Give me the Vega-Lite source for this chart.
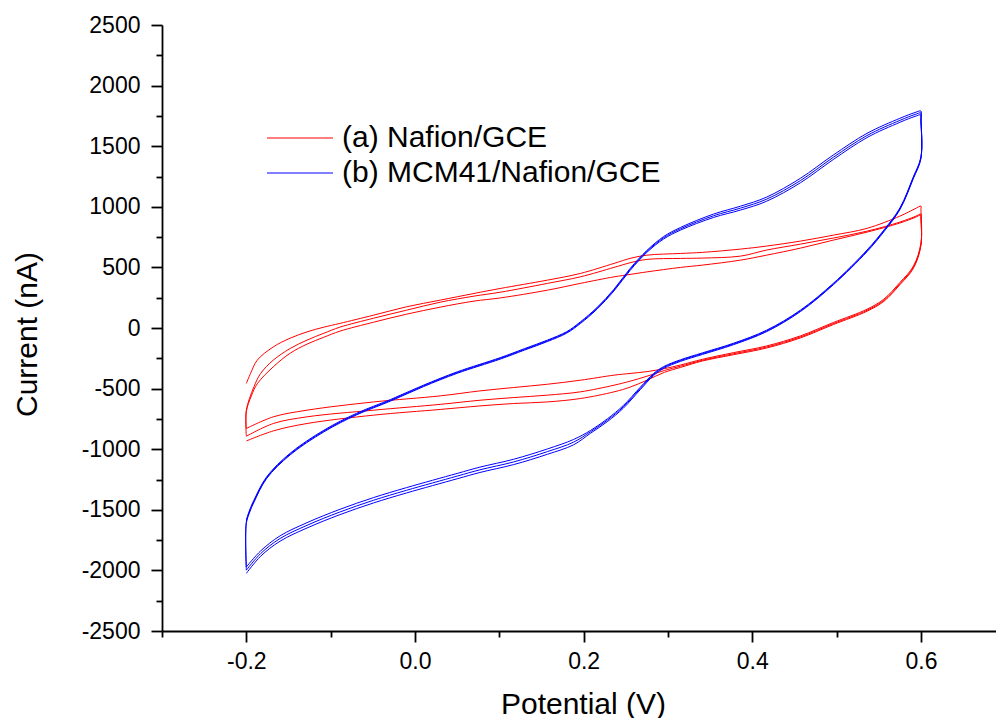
{
  "$schema": "https://vega.github.io/schema/vega-lite/v6.json",
  "autosize": "none",
  "width": 834,
  "height": 606,
  "padding": {"left": 162, "top": 25, "right": 0, "bottom": 87},
  "background": "white",
  "config": {
    "view": {"stroke": null},
    "font": "Liberation Sans",
    "axis": {
      "domainColor": "#000000", "domainWidth": 1.8,
      "tickColor": "#000000", "tickWidth": 1.8,
      "labelColor": "#000000", "titleColor": "#000000",
      "labelFont": "Liberation Sans", "titleFont": "Liberation Sans",
      "labelFontSize": 23, "titleFontSize": 30, "titleFontWeight": "normal",
      "grid": false, "labelOverlap": false, "labelFlush": false, "labelBound": false
    },
    "legend": {
      "symbolType": "stroke", "symbolSize": 4356, "symbolStrokeWidth": 1.2,
      "labelFont": "Liberation Sans", "labelFontSize": 30, "labelColor": "#000000",
      "labelOffset": 8, "padding": 0, "labelLimit": 0
    }
  },
  "data": {
    "values": [
      {"s":"a","c":"a1","v":-0.2,"i":-458},{"s":"a","c":"a1","v":-0.195,"i":-375},{"s":"a","c":"a1","v":-0.187,"i":-265},{"s":"a","c":"a1","v":-0.168,"i":-156},{"s":"a","c":"a1","v":-0.148,"i":-84},{"s":"a","c":"a1","v":-0.128,"i":-32},{"s":"a","c":"a1","v":-0.108,"i":7},{"s":"a","c":"a1","v":-0.089,"i":38},{"s":"a","c":"a1","v":-0.049,"i":106},{"s":"a","c":"a1","v":-0.01,"i":175},{"s":"a","c":"a1","v":0.03,"i":230},{"s":"a","c":"a1","v":0.07,"i":285},{"s":"a","c":"a1","v":0.101,"i":326},{"s":"a","c":"a1","v":0.157,"i":395},{"s":"a","c":"a1","v":0.196,"i":450},{"s":"a","c":"a1","v":0.236,"i":533},{"s":"a","c":"a1","v":0.255,"i":574},{"s":"a","c":"a1","v":0.275,"i":601},{"s":"a","c":"a1","v":0.315,"i":615},{"s":"a","c":"a1","v":0.341,"i":624},{"s":"a","c":"a1","v":0.386,"i":651},{"s":"a","c":"a1","v":0.417,"i":676},{"s":"a","c":"a1","v":0.457,"i":717},{"s":"a","c":"a1","v":0.496,"i":766},{"s":"a","c":"a1","v":0.536,"i":822},{"s":"a","c":"a1","v":0.575,"i":923},{"s":"a","c":"a1","v":0.593,"i":984},{"s":"a","c":"a1","v":0.6,"i":1006},
      {"s":"a","c":"a1","v":0.6,"i":980},{"s":"a","c":"a1","v":0.6,"i":700},{"s":"a","c":"a1","v":0.591,"i":510},{"s":"a","c":"a1","v":0.575,"i":375},{"s":"a","c":"a1","v":0.556,"i":238},{"s":"a","c":"a1","v":0.536,"i":155},{"s":"a","c":"a1","v":0.496,"i":45},{"s":"a","c":"a1","v":0.457,"i":-65},{"s":"a","c":"a1","v":0.417,"i":-148},{"s":"a","c":"a1","v":0.378,"i":-203},{"s":"a","c":"a1","v":0.341,"i":-258},{"s":"a","c":"a1","v":0.315,"i":-305},{"s":"a","c":"a1","v":0.296,"i":-335},{"s":"a","c":"a1","v":0.275,"i":-360},{"s":"a","c":"a1","v":0.255,"i":-375},{"s":"a","c":"a1","v":0.236,"i":-389},{"s":"a","c":"a1","v":0.196,"i":-431},{"s":"a","c":"a1","v":0.157,"i":-464},{"s":"a","c":"a1","v":0.117,"i":-491},{"s":"a","c":"a1","v":0.077,"i":-519},{"s":"a","c":"a1","v":0.03,"i":-560},{"s":"a","c":"a1","v":-0.049,"i":-610},{"s":"a","c":"a1","v":-0.128,"i":-678},{"s":"a","c":"a1","v":-0.168,"i":-733},{"s":"a","c":"a1","v":-0.2,"i":-829},

      {"s":"a","c":"a2","v":-0.2,"i":-829},{"s":"a","c":"a2","v":-0.2,"i":-678},{"s":"a","c":"a2","v":-0.191,"i":-486},{"s":"a","c":"a2","v":-0.183,"i":-375},{"s":"a","c":"a2","v":-0.168,"i":-265},{"s":"a","c":"a2","v":-0.148,"i":-169},{"s":"a","c":"a2","v":-0.128,"i":-100},{"s":"a","c":"a2","v":-0.108,"i":-43},{"s":"a","c":"a2","v":-0.089,"i":7},{"s":"a","c":"a2","v":-0.049,"i":81},{"s":"a","c":"a2","v":-0.01,"i":147},{"s":"a","c":"a2","v":0.03,"i":213},{"s":"a","c":"a2","v":0.07,"i":263},{"s":"a","c":"a2","v":0.101,"i":295},{"s":"a","c":"a2","v":0.157,"i":368},{"s":"a","c":"a2","v":0.196,"i":422},{"s":"a","c":"a2","v":0.236,"i":500},{"s":"a","c":"a2","v":0.255,"i":538},{"s":"a","c":"a2","v":0.275,"i":566},{"s":"a","c":"a2","v":0.315,"i":574},{"s":"a","c":"a2","v":0.341,"i":577},{"s":"a","c":"a2","v":0.386,"i":593},{"s":"a","c":"a2","v":0.417,"i":643},{"s":"a","c":"a2","v":0.457,"i":692},{"s":"a","c":"a2","v":0.496,"i":742},{"s":"a","c":"a2","v":0.536,"i":799},{"s":"a","c":"a2","v":0.575,"i":874},{"s":"a","c":"a2","v":0.593,"i":920},{"s":"a","c":"a2","v":0.6,"i":940},
      {"s":"a","c":"a2","v":0.6,"i":915},{"s":"a","c":"a2","v":0.6,"i":690},{"s":"a","c":"a2","v":0.591,"i":500},{"s":"a","c":"a2","v":0.575,"i":365},{"s":"a","c":"a2","v":0.556,"i":228},{"s":"a","c":"a2","v":0.536,"i":146},{"s":"a","c":"a2","v":0.496,"i":36},{"s":"a","c":"a2","v":0.457,"i":-74},{"s":"a","c":"a2","v":0.417,"i":-157},{"s":"a","c":"a2","v":0.378,"i":-212},{"s":"a","c":"a2","v":0.341,"i":-266},{"s":"a","c":"a2","v":0.315,"i":-315},{"s":"a","c":"a2","v":0.296,"i":-350},{"s":"a","c":"a2","v":0.275,"i":-398},{"s":"a","c":"a2","v":0.255,"i":-439},{"s":"a","c":"a2","v":0.236,"i":-472},{"s":"a","c":"a2","v":0.196,"i":-527},{"s":"a","c":"a2","v":0.157,"i":-554},{"s":"a","c":"a2","v":0.117,"i":-574},{"s":"a","c":"a2","v":0.077,"i":-596},{"s":"a","c":"a2","v":0.03,"i":-630},{"s":"a","c":"a2","v":-0.049,"i":-678},{"s":"a","c":"a2","v":-0.128,"i":-733},{"s":"a","c":"a2","v":-0.168,"i":-788},{"s":"a","c":"a2","v":-0.2,"i":-893},

      {"s":"a","c":"a3","v":-0.2,"i":-893},{"s":"a","c":"a3","v":-0.2,"i":-690},{"s":"a","c":"a3","v":-0.194,"i":-560},{"s":"a","c":"a3","v":-0.187,"i":-460},{"s":"a","c":"a3","v":-0.168,"i":-320},{"s":"a","c":"a3","v":-0.148,"i":-208},{"s":"a","c":"a3","v":-0.128,"i":-133},{"s":"a","c":"a3","v":-0.108,"i":-76},{"s":"a","c":"a3","v":-0.089,"i":-26},{"s":"a","c":"a3","v":-0.049,"i":48},{"s":"a","c":"a3","v":-0.01,"i":114},{"s":"a","c":"a3","v":0.03,"i":172},{"s":"a","c":"a3","v":0.07,"i":222},{"s":"a","c":"a3","v":0.101,"i":248},{"s":"a","c":"a3","v":0.157,"i":312},{"s":"a","c":"a3","v":0.196,"i":368},{"s":"a","c":"a3","v":0.236,"i":422},{"s":"a","c":"a3","v":0.255,"i":442},{"s":"a","c":"a3","v":0.275,"i":463},{"s":"a","c":"a3","v":0.315,"i":500},{"s":"a","c":"a3","v":0.341,"i":519},{"s":"a","c":"a3","v":0.386,"i":560},{"s":"a","c":"a3","v":0.417,"i":601},{"s":"a","c":"a3","v":0.457,"i":659},{"s":"a","c":"a3","v":0.496,"i":725},{"s":"a","c":"a3","v":0.536,"i":791},{"s":"a","c":"a3","v":0.575,"i":866},{"s":"a","c":"a3","v":0.593,"i":912},{"s":"a","c":"a3","v":0.6,"i":932},
      {"s":"a","c":"a3","v":0.6,"i":907},{"s":"a","c":"a3","v":0.6,"i":680},{"s":"a","c":"a3","v":0.591,"i":492},{"s":"a","c":"a3","v":0.575,"i":357},{"s":"a","c":"a3","v":0.556,"i":220},{"s":"a","c":"a3","v":0.536,"i":138},{"s":"a","c":"a3","v":0.496,"i":28},{"s":"a","c":"a3","v":0.457,"i":-82},{"s":"a","c":"a3","v":0.417,"i":-165},{"s":"a","c":"a3","v":0.378,"i":-220},{"s":"a","c":"a3","v":0.341,"i":-272},{"s":"a","c":"a3","v":0.315,"i":-325},{"s":"a","c":"a3","v":0.296,"i":-365},{"s":"a","c":"a3","v":0.275,"i":-431},{"s":"a","c":"a3","v":0.255,"i":-488},{"s":"a","c":"a3","v":0.236,"i":-527},{"s":"a","c":"a3","v":0.196,"i":-582},{"s":"a","c":"a3","v":0.157,"i":-610},{"s":"a","c":"a3","v":0.117,"i":-623},{"s":"a","c":"a3","v":0.077,"i":-643},{"s":"a","c":"a3","v":0.03,"i":-672},{"s":"a","c":"a3","v":-0.049,"i":-719},{"s":"a","c":"a3","v":-0.128,"i":-788},{"s":"a","c":"a3","v":-0.168,"i":-849},{"s":"a","c":"a3","v":-0.2,"i":-932},

      {"s":"b","c":"b1","v":-0.2,"i":-1586},{"s":"b","c":"b1","v":-0.196,"i":-1500},{"s":"b","c":"b1","v":-0.191,"i":-1421},{"s":"b","c":"b1","v":-0.176,"i":-1229},{"s":"b","c":"b1","v":-0.148,"i":-1033},{"s":"b","c":"b1","v":-0.108,"i":-843},{"s":"b","c":"b1","v":-0.069,"i":-703},{"s":"b","c":"b1","v":-0.029,"i":-590},{"s":"b","c":"b1","v":0.01,"i":-472},{"s":"b","c":"b1","v":0.05,"i":-362},{"s":"b","c":"b1","v":0.101,"i":-245},{"s":"b","c":"b1","v":0.13,"i":-170},{"s":"b","c":"b1","v":0.157,"i":-100},{"s":"b","c":"b1","v":0.18,"i":-30},{"s":"b","c":"b1","v":0.196,"i":50},{"s":"b","c":"b1","v":0.216,"i":170},{"s":"b","c":"b1","v":0.236,"i":320},{"s":"b","c":"b1","v":0.255,"i":490},{"s":"b","c":"b1","v":0.275,"i":640},{"s":"b","c":"b1","v":0.295,"i":755},{"s":"b","c":"b1","v":0.315,"i":830},{"s":"b","c":"b1","v":0.354,"i":940},{"s":"b","c":"b1","v":0.386,"i":1005},{"s":"b","c":"b1","v":0.417,"i":1080},{"s":"b","c":"b1","v":0.457,"i":1235},{"s":"b","c":"b1","v":0.496,"i":1427},{"s":"b","c":"b1","v":0.536,"i":1606},{"s":"b","c":"b1","v":0.575,"i":1730},{"s":"b","c":"b1","v":0.593,"i":1778},{"s":"b","c":"b1","v":0.6,"i":1790},
      {"s":"b","c":"b1","v":0.6,"i":1745},{"s":"b","c":"b1","v":0.6,"i":1413},{"s":"b","c":"b1","v":0.591,"i":1248},{"s":"b","c":"b1","v":0.575,"i":990},{"s":"b","c":"b1","v":0.556,"i":808},{"s":"b","c":"b1","v":0.536,"i":643},{"s":"b","c":"b1","v":0.496,"i":368},{"s":"b","c":"b1","v":0.457,"i":147},{"s":"b","c":"b1","v":0.417,"i":-18},{"s":"b","c":"b1","v":0.378,"i":-125},{"s":"b","c":"b1","v":0.341,"i":-205},{"s":"b","c":"b1","v":0.315,"i":-262},{"s":"b","c":"b1","v":0.295,"i":-318},{"s":"b","c":"b1","v":0.283,"i":-375},{"s":"b","c":"b1","v":0.267,"i":-490},{"s":"b","c":"b1","v":0.247,"i":-640},{"s":"b","c":"b1","v":0.228,"i":-750},{"s":"b","c":"b1","v":0.208,"i":-846},{"s":"b","c":"b1","v":0.188,"i":-920},{"s":"b","c":"b1","v":0.157,"i":-998},{"s":"b","c":"b1","v":0.117,"i":-1083},{"s":"b","c":"b1","v":0.077,"i":-1148},{"s":"b","c":"b1","v":0.05,"i":-1200},{"s":"b","c":"b1","v":-0.01,"i":-1317},{"s":"b","c":"b1","v":-0.049,"i":-1399},{"s":"b","c":"b1","v":-0.089,"i":-1496},{"s":"b","c":"b1","v":-0.128,"i":-1606},{"s":"b","c":"b1","v":-0.16,"i":-1715},{"s":"b","c":"b1","v":-0.183,"i":-1839},{"s":"b","c":"b1","v":-0.2,"i":-1972},

      {"s":"b","c":"b2","v":-0.2,"i":-1972},{"s":"b","c":"b2","v":-0.2,"i":-1600},{"s":"b","c":"b2","v":-0.196,"i":-1510},{"s":"b","c":"b2","v":-0.191,"i":-1430},{"s":"b","c":"b2","v":-0.176,"i":-1236},{"s":"b","c":"b2","v":-0.148,"i":-1040},{"s":"b","c":"b2","v":-0.108,"i":-850},{"s":"b","c":"b2","v":-0.069,"i":-710},{"s":"b","c":"b2","v":-0.029,"i":-597},{"s":"b","c":"b2","v":0.01,"i":-478},{"s":"b","c":"b2","v":0.05,"i":-368},{"s":"b","c":"b2","v":0.101,"i":-251},{"s":"b","c":"b2","v":0.13,"i":-176},{"s":"b","c":"b2","v":0.157,"i":-106},{"s":"b","c":"b2","v":0.18,"i":-36},{"s":"b","c":"b2","v":0.196,"i":43},{"s":"b","c":"b2","v":0.216,"i":163},{"s":"b","c":"b2","v":0.236,"i":313},{"s":"b","c":"b2","v":0.255,"i":482},{"s":"b","c":"b2","v":0.275,"i":632},{"s":"b","c":"b2","v":0.295,"i":745},{"s":"b","c":"b2","v":0.315,"i":819},{"s":"b","c":"b2","v":0.354,"i":926},{"s":"b","c":"b2","v":0.386,"i":989},{"s":"b","c":"b2","v":0.417,"i":1063},{"s":"b","c":"b2","v":0.457,"i":1216},{"s":"b","c":"b2","v":0.496,"i":1408},{"s":"b","c":"b2","v":0.536,"i":1588},{"s":"b","c":"b2","v":0.575,"i":1713},{"s":"b","c":"b2","v":0.593,"i":1762},{"s":"b","c":"b2","v":0.6,"i":1774},
      {"s":"b","c":"b2","v":0.6,"i":1728},{"s":"b","c":"b2","v":0.6,"i":1405},{"s":"b","c":"b2","v":0.591,"i":1240},{"s":"b","c":"b2","v":0.575,"i":983},{"s":"b","c":"b2","v":0.556,"i":801},{"s":"b","c":"b2","v":0.536,"i":636},{"s":"b","c":"b2","v":0.496,"i":362},{"s":"b","c":"b2","v":0.457,"i":141},{"s":"b","c":"b2","v":0.417,"i":-24},{"s":"b","c":"b2","v":0.378,"i":-131},{"s":"b","c":"b2","v":0.341,"i":-211},{"s":"b","c":"b2","v":0.315,"i":-268},{"s":"b","c":"b2","v":0.295,"i":-325},{"s":"b","c":"b2","v":0.283,"i":-383},{"s":"b","c":"b2","v":0.267,"i":-500},{"s":"b","c":"b2","v":0.247,"i":-651},{"s":"b","c":"b2","v":0.228,"i":-761},{"s":"b","c":"b2","v":0.208,"i":-857},{"s":"b","c":"b2","v":0.188,"i":-942},{"s":"b","c":"b2","v":0.157,"i":-1020},{"s":"b","c":"b2","v":0.117,"i":-1105},{"s":"b","c":"b2","v":0.077,"i":-1170},{"s":"b","c":"b2","v":0.05,"i":-1222},{"s":"b","c":"b2","v":-0.01,"i":-1339},{"s":"b","c":"b2","v":-0.049,"i":-1421},{"s":"b","c":"b2","v":-0.089,"i":-1518},{"s":"b","c":"b2","v":-0.128,"i":-1628},{"s":"b","c":"b2","v":-0.16,"i":-1737},{"s":"b","c":"b2","v":-0.183,"i":-1861},{"s":"b","c":"b2","v":-0.2,"i":-1998},

      {"s":"b","c":"b3","v":-0.2,"i":-1998},{"s":"b","c":"b3","v":-0.2,"i":-1612},{"s":"b","c":"b3","v":-0.196,"i":-1520},{"s":"b","c":"b3","v":-0.191,"i":-1438},{"s":"b","c":"b3","v":-0.176,"i":-1243},{"s":"b","c":"b3","v":-0.148,"i":-1047},{"s":"b","c":"b3","v":-0.108,"i":-857},{"s":"b","c":"b3","v":-0.069,"i":-716},{"s":"b","c":"b3","v":-0.029,"i":-603},{"s":"b","c":"b3","v":0.01,"i":-484},{"s":"b","c":"b3","v":0.05,"i":-374},{"s":"b","c":"b3","v":0.101,"i":-257},{"s":"b","c":"b3","v":0.13,"i":-182},{"s":"b","c":"b3","v":0.157,"i":-112},{"s":"b","c":"b3","v":0.18,"i":-42},{"s":"b","c":"b3","v":0.196,"i":36},{"s":"b","c":"b3","v":0.216,"i":156},{"s":"b","c":"b3","v":0.236,"i":306},{"s":"b","c":"b3","v":0.255,"i":474},{"s":"b","c":"b3","v":0.275,"i":624},{"s":"b","c":"b3","v":0.295,"i":735},{"s":"b","c":"b3","v":0.315,"i":808},{"s":"b","c":"b3","v":0.354,"i":912},{"s":"b","c":"b3","v":0.386,"i":973},{"s":"b","c":"b3","v":0.417,"i":1046},{"s":"b","c":"b3","v":0.457,"i":1198},{"s":"b","c":"b3","v":0.496,"i":1390},{"s":"b","c":"b3","v":0.536,"i":1571},{"s":"b","c":"b3","v":0.575,"i":1697},{"s":"b","c":"b3","v":0.593,"i":1746},{"s":"b","c":"b3","v":0.6,"i":1758},
      {"s":"b","c":"b3","v":0.6,"i":1712},{"s":"b","c":"b3","v":0.6,"i":1398},{"s":"b","c":"b3","v":0.591,"i":1233},{"s":"b","c":"b3","v":0.575,"i":976},{"s":"b","c":"b3","v":0.556,"i":794},{"s":"b","c":"b3","v":0.536,"i":629},{"s":"b","c":"b3","v":0.496,"i":356},{"s":"b","c":"b3","v":0.457,"i":135},{"s":"b","c":"b3","v":0.417,"i":-30},{"s":"b","c":"b3","v":0.378,"i":-137},{"s":"b","c":"b3","v":0.341,"i":-218},{"s":"b","c":"b3","v":0.315,"i":-275},{"s":"b","c":"b3","v":0.295,"i":-333},{"s":"b","c":"b3","v":0.283,"i":-392},{"s":"b","c":"b3","v":0.267,"i":-510},{"s":"b","c":"b3","v":0.247,"i":-662},{"s":"b","c":"b3","v":0.228,"i":-773},{"s":"b","c":"b3","v":0.208,"i":-869},{"s":"b","c":"b3","v":0.188,"i":-964},{"s":"b","c":"b3","v":0.157,"i":-1042},{"s":"b","c":"b3","v":0.117,"i":-1127},{"s":"b","c":"b3","v":0.077,"i":-1192},{"s":"b","c":"b3","v":0.05,"i":-1244},{"s":"b","c":"b3","v":-0.01,"i":-1361},{"s":"b","c":"b3","v":-0.049,"i":-1443},{"s":"b","c":"b3","v":-0.089,"i":-1540},{"s":"b","c":"b3","v":-0.128,"i":-1650},{"s":"b","c":"b3","v":-0.16,"i":-1759},{"s":"b","c":"b3","v":-0.183,"i":-1883},{"s":"b","c":"b3","v":-0.2,"i":-2024}
    ]
  },
  "encoding": {
    "x": {
      "field": "v", "type": "quantitative",
      "scale": {"domain": [-0.3, 0.689], "nice": false, "zero": false},
      "axis": {
        "title": "Potential (V)",
        "values": [-0.3, -0.2, -0.1, 0, 0.1, 0.2, 0.3, 0.4, 0.5, 0.6],
        "labelExpr": "round(datum.value*10) % 2 != 0 ? '' : (datum.value < 0 ? '-' : '') + format(abs(datum.value), '.1f')",
        "tickSize": {"condition": {"test": "round(datum.value*10) % 2 != 0", "value": 6}, "value": 11},
        "labelPadding": 8,
        "titleX": 421, "titleY": 82, "titleBaseline": "alphabetic", "titleAlign": "center"
      }
    },
    "y": {
      "field": "i", "type": "quantitative",
      "scale": {"domain": [-2500, 2500], "nice": false, "zero": false},
      "axis": {
        "title": "Current (nA)",
        "values": [-2500, -2250, -2000, -1750, -1500, -1250, -1000, -750, -500, -250, 0, 250, 500, 750, 1000, 1250, 1500, 1750, 2000, 2250, 2500],
        "labelExpr": "datum.value % 500 != 0 ? '' : '' + datum.value",
        "tickSize": {"condition": {"test": "datum.value % 500 != 0", "value": 6}, "value": 11},
        "labelPadding": 11,
        "titleX": -126, "titleY": 309, "titleAngle": -90, "titleBaseline": "alphabetic", "titleAlign": "center"
      }
    },
    "detail": {"field": "c", "type": "nominal"},
    "order": {"value": null}
  },
  "layer": [
    {
      "transform": [{"filter": "datum.s == 'a'"}],
      "mark": {"type": "line", "strokeWidth": 1, "interpolate": "catmull-rom"},
      "encoding": {
        "color": {
          "field": "s", "type": "nominal",
          "scale": {"domain": ["a"], "range": ["#ff0000"]},
          "legend": {"title": null, "orient": "none", "legendX": 104, "legendY": 79, "labelExpr": "'(a) Nafion/GCE'"}
        }
      }
    },
    {
      "transform": [{"filter": "datum.s == 'b'"}],
      "mark": {"type": "line", "strokeWidth": 1, "interpolate": "catmull-rom"},
      "encoding": {
        "color": {
          "field": "s", "type": "nominal",
          "scale": {"domain": ["b"], "range": ["#0000ff"]},
          "legend": {"title": null, "orient": "none", "legendX": 104, "legendY": 114, "labelExpr": "'(b) MCM41/Nafion/GCE'"}
        }
      }
    }
  ],
  "resolve": {"scale": {"color": "independent"}, "legend": {"color": "independent"}}
}
